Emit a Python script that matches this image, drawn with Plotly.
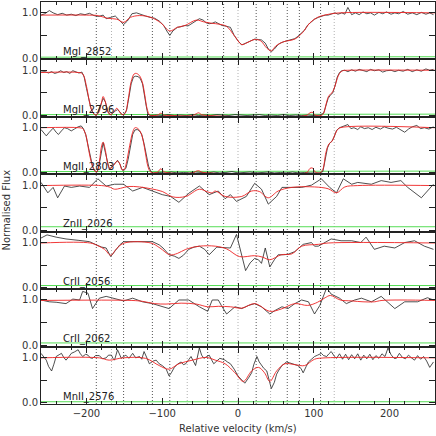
import plotly.graph_objects as go
from plotly.subplots import make_subplots

# ---- data (velocity in km/s, normalised flux) ----
v_mgi_2852 = [-260, -255, -249, -244, -238, -232, -226, -220, -214, -208,
              -202, -196, -190, -184, -178, -174, -168, -162, -156, -151,
              -146, -140, -134, -128, -122, -116, -110, -104, -98, -94,
              -90, -86, -80, -76, -70, -66, -60, -55, -51, -46,
              -42, -38, -34, -30, -26, -21, -17, -13, -10, -5,
              0, 5, 9, 13, 18, 22, 27, 31, 36, 40,
              44, 48, 53, 57, 62, 66, 70, 75, 79, 84,
              88, 92, 97, 101, 106, 110, 115, 119, 124, 128,
              132, 137, 141, 145, 150, 155, 160, 165, 170, 175,
              180, 186, 191, 196, 202, 207, 212, 218, 224, 230,
              236, 242, 248, 253, 258]
f_mgi_2852 = [0.95, 0.98, 1.05, 1.00, 0.96, 0.99, 0.95, 0.97, 0.94, 0.98,
              0.96, 0.99, 0.94, 0.92, 0.95, 0.87, 0.90, 0.93, 0.83, 0.74,
              0.82, 0.98, 1.00, 0.96, 0.93, 0.90, 0.88, 0.82, 0.72, 0.60,
              0.50, 0.60, 0.68, 0.69, 0.72, 0.71, 0.78, 0.83, 0.87, 0.84,
              0.78, 0.76, 0.77, 0.80, 0.76, 0.72, 0.71, 0.70, 0.68, 0.50,
              0.38, 0.29, 0.32, 0.36, 0.40, 0.42, 0.41, 0.40, 0.33, 0.20,
              0.14, 0.20, 0.30, 0.34, 0.37, 0.39, 0.41, 0.43, 0.48, 0.56,
              0.62, 0.73, 0.80, 0.86, 0.90, 0.92, 0.95, 0.95, 0.97, 1.00,
              0.97, 1.00, 0.97, 1.12, 0.96, 1.00, 0.96, 1.02, 0.98, 1.00,
              0.95, 1.01, 0.98, 1.02, 0.97, 1.00, 0.98, 1.03, 0.97, 1.00,
              0.96, 1.01, 0.97, 1.00, 0.96]
vm_mgi_2852 = [-260, -200, -185, -172, -160, -151, -142, -130, -115, -102,
               -90, -80, -70, -55, -45, -35, -25, -15, -5, 5,
               12, 22, 30, 38, 44, 50, 60, 75, 85, 95,
               105, 120, 135, 260]
m_mgi_2852 = [0.95, 0.95, 0.94, 0.88, 0.86, 0.79, 0.90, 0.94, 0.90, 0.78,
              0.60, 0.68, 0.72, 0.84, 0.80, 0.77, 0.75, 0.70, 0.50, 0.30,
              0.34, 0.41, 0.38, 0.22, 0.16, 0.27, 0.36, 0.42, 0.56, 0.78,
              0.90, 0.97, 1.00, 1.00]

v_mgii_2796 = [-260, -255, -250, -246, -242, -238, -234, -230, -226, -222,
               -218, -214, -210, -206, -203, -200, -197, -194, -191, -188,
               -185, -182, -178, -175, -172, -169, -166, -162, -159, -156,
               -153, -150, -147, -144, -141, -138, -135, -132, -129, -126,
               -123, -121, -119, -116, -108, -100, -92, -84, -76, -68,
               -60, -52, -44, -36, -28, -20, -12, -4, 4, 12,
               20, 28, 36, 44, 52, 60, 68, 76, 84, 92,
               100, 108, 113, 116, 119, 122, 125, 128, 131, 134,
               137, 141, 145, 150, 155, 160, 165, 170, 175, 180,
               186, 191, 196, 202, 207, 212, 218, 224, 230, 236,
               242, 248, 253, 258]
f_mgii_2796 = [0.96, 0.97, 0.94, 0.97, 0.93, 0.95, 0.99, 0.95, 0.97, 0.93,
               0.99, 0.97, 0.94, 0.96, 0.85, 0.60, 0.35, 0.15, 0.05, 0.01,
               0.05, 0.20, 0.38, 0.30, 0.10, 0.02, 0.04, 0.10, 0.13, 0.08,
               0.02, 0.03, 0.12, 0.40, 0.70, 0.85, 0.87, 0.86, 0.82, 0.70,
               0.45, 0.20, 0.03, 0.00, 0.01, 0.00, 0.02, 0.00, 0.01, 0.00,
               0.02, 0.00, 0.01, 0.00, 0.02, 0.01, 0.00, 0.02, 0.01, 0.00,
               0.01, 0.02, 0.00, 0.01, 0.00, 0.02, 0.00, 0.01, 0.00, 0.01,
               0.00, 0.01, 0.05, 0.20, 0.38, 0.45, 0.50, 0.65, 0.85, 0.95,
               0.99, 1.00, 0.97, 1.01, 0.98, 1.02, 0.99, 0.97, 1.02, 0.99,
               1.01, 0.96, 0.99, 1.00, 0.97, 1.00, 0.98, 1.02, 0.97, 1.01,
               0.98, 1.03, 1.00, 1.02]
vm_mgii_2796 = [-260, -210, -205, -200, -196, -192, -188, -184, -180, -178,
                -175, -171, -168, -164, -160, -157, -153, -149, -145, -141,
                -137, -134, -130, -126, -123, -120, -117, -114, -106, -102,
                -98, -90, -60, -55, -52, -48, -40, 90, 95, 98,
                102, 110, 113, 117, 120, 124, 128, 131, 134, 138,
                145, 260]
m_mgii_2796 = [0.95, 0.95, 0.92, 0.65, 0.30, 0.08, 0.01, 0.06, 0.30, 0.42,
               0.30, 0.05, 0.02, 0.08, 0.16, 0.10, 0.02, 0.05, 0.35, 0.75,
               0.92, 0.93, 0.88, 0.72, 0.45, 0.15, 0.02, 0.00, 0.01, 0.05,
               0.01, 0.00, 0.00, 0.04, 0.06, 0.02, 0.00, 0.00, 0.06, 0.07,
               0.01, 0.00, 0.05, 0.30, 0.44, 0.50, 0.65, 0.82, 0.93, 0.99,
               1.00, 1.00]

v_mgii_2803 = [-260, -257, -253, -249, -244, -240, -237, -233, -229, -225,
               -220, -216, -211, -207, -204, -201, -198, -195, -192, -189,
               -186, -183, -180, -178, -175, -172, -170, -167, -163, -159,
               -156, -153, -151, -148, -145, -142, -139, -136, -133, -130,
               -127, -124, -121, -118, -115, -112, -104, -96, -88, -80,
               -72, -64, -56, -48, -40, -32, -24, -16, -8, 0,
               8, 16, 24, 32, 40, 48, 56, 64, 72, 80,
               88, 96, 104, 108, 112, 115, 118, 121, 124, 127,
               130, 134, 140, 145, 149, 153, 158, 162, 167, 172,
               177, 182, 188, 193, 198, 204, 209, 215, 220, 225,
               230, 236, 241, 246, 252, 258]
f_mgii_2803 = [0.96, 0.90, 0.82, 0.90, 0.99, 0.90, 0.85, 0.93, 1.00, 0.98,
               0.93, 0.97, 1.02, 1.04, 0.98, 0.85, 0.60, 0.35, 0.15, 0.05,
               0.02, 0.20, 0.55, 0.67, 0.45, 0.20, 0.09, 0.12, 0.20, 0.28,
               0.20, 0.07, 0.05, 0.10, 0.30, 0.60, 0.85, 0.95, 0.96, 0.93,
               0.85, 0.65, 0.40, 0.15, 0.03, 0.00, 0.01, 0.00, 0.02, 0.00,
               0.01, 0.00, 0.02, 0.01, 0.00, 0.02, 0.00, 0.01, 0.03, 0.00,
               0.01, 0.02, 0.00, 0.01, 0.02, 0.00, 0.01, 0.00, 0.02, 0.00,
               0.01, 0.00, 0.01, 0.00, 0.03, 0.30, 0.55, 0.66, 0.70, 0.80,
               0.94, 1.00, 1.03, 1.07, 0.98, 1.00, 0.96, 1.02, 0.98, 1.00,
               0.96, 1.01, 0.97, 1.02, 0.99, 0.97, 1.01, 0.95, 0.90, 0.97,
               1.02, 1.05, 0.98, 1.00, 0.97, 1.02]
vm_mgii_2803 = [-260, -210, -205, -201, -197, -193, -189, -186, -183, -180,
                -178, -175, -172, -169, -166, -162, -159, -156, -153, -150,
                -147, -143, -139, -136, -132, -128, -125, -122, -119, -116,
                -113, -106, -102, -98, -92, -60, -55, -52, -48, -40,
                90, 95, 98, 102, 108, 112, 116, 120, 124, 128,
                131, 135, 260]
m_mgii_2803 = [1.00, 1.00, 0.98, 0.85, 0.50, 0.20, 0.04, 0.03, 0.25, 0.60,
               0.68, 0.50, 0.20, 0.10, 0.13, 0.22, 0.26, 0.20, 0.07, 0.08,
               0.25, 0.60, 0.90, 1.00, 0.98, 0.88, 0.70, 0.42, 0.15, 0.03,
               0.00, 0.02, 0.09, 0.03, 0.00, 0.00, 0.04, 0.05, 0.02, 0.00,
               0.00, 0.10, 0.11, 0.02, 0.00, 0.08, 0.45, 0.64, 0.70, 0.85,
               0.95, 1.00, 1.00]

v_znii_2026 = [-260, -251, -244, -238, -229, -220, -209, -196, -185, -174,
               -163, -151, -139, -126, -113, -100, -89, -78, -65, -51,
               -38, -26, -17, -10, -2, 11, 22, 31, 40, 51,
               58, 71, 84, 97, 110, 121, 130, 139, 150, 158,
               176, 189, 202, 215, 224, 242, 250, 258]
f_znii_2026 = [1.06, 0.83, 0.95, 0.72, 0.98, 0.95, 0.98, 0.95, 1.14, 0.98,
               1.02, 1.02, 0.87, 0.95, 0.87, 0.79, 0.75, 0.62, 0.82, 0.98,
               0.79, 0.87, 0.70, 0.79, 0.64, 0.75, 1.04, 0.91, 0.58, 0.75,
               0.95, 0.95, 0.95, 1.00, 1.14, 0.95, 0.83, 1.14, 1.02, 1.06,
               1.02, 1.10, 1.06, 1.10, 0.95, 0.72, 0.87, 1.02]
vm_znii_2026 = [-260, -180, -170, -163, -155, -145, -130, -115, -100, -86,
                -69, -51, -40, -34, -30, -17, 5, 18, 28, 40,
                53, 71, 101, 119, 130, 141, 158, 260]
m_znii_2026 = [0.99, 0.99, 0.96, 0.91, 0.93, 0.97, 0.96, 0.92, 0.86, 0.74,
               0.75, 0.91, 0.85, 0.83, 0.87, 0.75, 0.75, 0.87, 0.86, 0.72,
               0.87, 0.95, 0.96, 0.92, 0.83, 0.96, 0.99, 0.99]

v_crii_2056 = [-260, -252, -240, -227, -211, -196, -187, -180, -174, -168,
               -162, -156, -151, -139, -126, -113, -104, -99, -91, -84,
               -78, -72, -65, -58, -51, -44, -38, -33, -28, -22,
               -17, -10, -2, 2, 5, 10, 16, 22, 27, 31,
               36, 42, 48, 53, 60, 66, 75, 86, 97, 101,
               106, 114, 123, 136, 150, 162, 169, 180, 193, 207,
               220, 233, 246, 258]
f_crii_2056 = [1.10, 1.17, 1.12, 1.08, 1.05, 1.02, 0.95, 0.90, 0.88, 0.69,
               0.82, 0.95, 1.02, 1.02, 1.02, 1.02, 0.95, 0.88, 0.73, 0.70,
               0.65, 0.72, 0.85, 0.90, 0.92, 0.85, 0.73, 0.82, 0.90, 0.89,
               0.88, 0.88, 1.18, 0.90, 0.73, 0.38, 0.55, 0.65, 0.62, 0.54,
               0.88, 0.46, 0.62, 0.73, 0.73, 0.74, 0.80, 0.96, 1.00, 0.92,
               0.92, 1.00, 1.08, 1.04, 1.04, 1.00, 1.12, 0.85, 0.92, 0.88,
               1.00, 1.04, 0.92, 0.85]
vm_crii_2056 = [-260, -195, -185, -176, -168, -160, -150, -115, -103, -90,
                -80, -69, -51, -30, -15, 2, 22, 32, 42, 57,
                71, 84, 106, 119, 260]
m_crii_2056 = [0.99, 0.99, 0.93, 0.85, 0.72, 0.87, 0.99, 0.99, 0.88, 0.73,
               0.76, 0.85, 0.92, 0.92, 0.86, 0.69, 0.71, 0.68, 0.62, 0.73,
               0.75, 0.92, 0.96, 0.99, 0.99]

v_crii_2062 = [-260, -249, -240, -227, -218, -209, -205, -198, -192, -183,
               -174, -163, -151, -139, -126, -113, -104, -91, -78, -65,
               -51, -40, -34, -26, -22, -15, -4, 5, 14, 22,
               31, 42, 49, 58, 66, 75, 84, 93, 101, 108,
               117, 123, 134, 143, 154, 163, 176, 189, 207, 220,
               237, 250, 258]
f_crii_2062 = [1.00, 0.96, 0.95, 0.92, 1.02, 1.00, 1.19, 1.15, 0.81, 1.04,
               1.08, 1.04, 0.98, 1.04, 0.96, 0.92, 0.88, 0.81, 1.00, 1.00,
               0.85, 0.75, 1.00, 1.00, 0.88, 0.69, 0.85, 0.81, 0.88, 0.92,
               0.85, 0.69, 0.77, 0.85, 0.81, 0.92, 1.00, 0.96, 0.69, 0.88,
               1.27, 1.13, 1.04, 0.92, 1.00, 1.04, 0.96, 1.08, 0.81, 0.96,
               0.96, 1.05, 1.00]
vm_crii_2062 = [-260, -140, -126, -110, -95, -75, -55, -40, -26, -10,
                5, 22, 42, 57, 75, 92, 105, 115, 122, 135,
                150, 165, 180, 190, 260]
m_crii_2062 = [0.99, 0.99, 0.97, 0.92, 0.91, 0.93, 0.91, 0.85, 0.86, 0.85,
               0.82, 0.92, 0.75, 0.80, 0.92, 0.88, 0.95, 1.05, 1.10, 1.00,
               0.98, 0.96, 0.96, 0.99, 0.99]

v_mnii_2576 = [-260, -256, -253, -250, -246, -243, -240, -236, -233, -230,
               -227, -223, -220, -216, -211, -208, -205, -201, -198, -195,
               -192, -188, -183, -179, -174, -171, -167, -165, -163, -159,
               -156, -154, -151, -148, -144, -139, -135, -130, -127, -124,
               -120, -117, -112, -108, -104, -100, -95, -91, -88, -84,
               -80, -75, -72, -69, -65, -62, -59, -56, -51, -48,
               -45, -41, -38, -35, -32, -28, -24, -20, -17, -14,
               -10, -5, 0, 5, 9, 14, 18, 21, 25, 28,
               31, 34, 38, 41, 44, 48, 51, 54, 58, 61,
               64, 68, 71, 75, 79, 83, 86, 90, 93, 97,
               101, 105, 110, 113, 117, 120, 123, 127, 130, 134,
               138, 142, 146, 150, 154, 158, 162, 166, 170, 174,
               178, 182, 186, 190, 194, 198, 202, 206, 209, 213,
               217, 221, 225, 229, 233, 237, 241, 245, 249, 253,
               256, 258]
f_mnii_2576 = [1.09, 1.00, 0.94, 0.80, 0.70, 0.85, 1.02, 1.06, 1.09, 1.00,
               0.94, 1.02, 1.09, 1.12, 1.17, 1.08, 1.02, 1.07, 1.05, 0.99,
               0.98, 1.04, 1.04, 0.97, 0.99, 1.05, 1.05, 0.98, 0.94, 1.17,
               1.05, 0.98, 1.02, 1.05, 0.98, 1.09, 0.99, 1.02, 0.96, 1.13,
               0.98, 0.86, 0.92, 0.94, 0.86, 0.82, 0.75, 0.59, 0.66, 0.78,
               0.85, 0.90, 0.84, 0.86, 0.95, 1.02, 0.92, 0.82, 1.21, 1.05,
               0.98, 1.02, 1.05, 0.95, 0.86, 0.92, 0.98, 0.96, 0.94, 0.90,
               0.86, 0.74, 0.59, 0.50, 0.43, 0.55, 0.66, 0.85, 1.02, 0.90,
               0.82, 0.76, 0.70, 0.50, 0.31, 0.45, 0.63, 0.72, 0.82, 0.86,
               0.90, 0.88, 0.86, 0.84, 0.82, 0.76, 0.66, 0.80, 0.90, 0.96,
               1.02, 1.05, 1.09, 1.04, 1.02, 1.08, 1.13, 1.03, 0.98, 1.08,
               0.96, 1.07, 0.95, 1.06, 0.97, 1.08, 0.94, 1.05, 0.97, 1.07,
               0.95, 1.04, 0.98, 1.08, 1.02, 1.21, 1.06, 0.98, 0.98, 1.09,
               1.00, 0.97, 1.05, 0.99, 0.94, 1.04, 0.96, 1.02, 0.92, 0.78,
               0.85, 0.90]
vm_mnii_2576 = [-260, -183, -170, -152, -122, -104, -91, -78, -60, -42,
                -30, -17, -4, 7, 18, 27, 35, 42, 51, 62,
                75, 88, 101, 115, 260]
m_mnii_2576 = [0.99, 0.99, 0.94, 0.99, 0.98, 0.82, 0.74, 0.86, 0.94, 1.00,
               0.94, 0.86, 0.66, 0.47, 0.70, 0.78, 0.66, 0.47, 0.70, 0.86,
               0.84, 0.82, 0.96, 0.99, 0.99]

# error spectra (green), on a coarse velocity grid
v_err = [-260, -200, -140, -80, -20, 40, 100, 160, 220, 260]
e_mgi_2852 = [0.02, 0.02, 0.02, 0.02, 0.02, 0.02, 0.02, 0.03, 0.03, 0.03]
e_mgii_2796 = [0.02, 0.02, 0.02, 0.02, 0.02, 0.02, 0.03, 0.03, 0.03, 0.03]
e_mgii_2803 = [0.03, 0.03, 0.03, 0.03, 0.03, 0.03, 0.04, 0.04, 0.04, 0.04]
e_znii_2026 = [0.08, 0.08, 0.08, 0.08, 0.08, 0.08, 0.08, 0.08, 0.08, 0.08]
e_crii_2056 = [0.05, 0.05, 0.05, 0.05, 0.05, 0.05, 0.05, 0.05, 0.05, 0.05]
e_crii_2062 = [0.05, 0.05, 0.05, 0.05, 0.05, 0.05, 0.05, 0.05, 0.05, 0.05]
e_mnii_2576 = [0.02, 0.02, 0.02, 0.02, 0.02, 0.02, 0.02, 0.02, 0.02, 0.02]

# component markers
comp_black = [-187, -151, -113, -90, -40, -19, 24, 65, 81, 109]
comp_grey = [-167, -67, 0, 43, 127]
blend_znii = [-137, -117, -102, -62, -40, -16, 10, 31, 55, 75, 95, 115, 131, 159, 178]
blend_crii = [-125, -105, -90, -51, -27, -5, 22, 48, 67, 87, 108, 143, 171, 190]

panels = [
    ("MgI_2852", v_mgi_2852, f_mgi_2852, vm_mgi_2852, m_mgi_2852, e_mgi_2852, []),
    ("MgII_2796", v_mgii_2796, f_mgii_2796, vm_mgii_2796, m_mgii_2796, e_mgii_2796, []),
    ("MgII_2803", v_mgii_2803, f_mgii_2803, vm_mgii_2803, m_mgii_2803, e_mgii_2803, []),
    ("ZnII_2026", v_znii_2026, f_znii_2026, vm_znii_2026, m_znii_2026, e_znii_2026, blend_znii),
    ("CrII_2056", v_crii_2056, f_crii_2056, vm_crii_2056, m_crii_2056, e_crii_2056, []),
    ("CrII_2062", v_crii_2062, f_crii_2062, vm_crii_2062, m_crii_2062, e_crii_2062, blend_crii),
    ("MnII_2576", v_mnii_2576, f_mnii_2576, vm_mnii_2576, m_mnii_2576, e_mnii_2576, []),
]

FONT = "DejaVu Sans"
n = len(panels)
fig = make_subplots(rows=n, cols=1, shared_xaxes=True, vertical_spacing=0)

for i, (name, v, f, vm, m, e, blends) in enumerate(panels, start=1):
    assert len(v) == len(f), name
    assert len(vm) == len(m), name
    fig.add_hline(y=1.0, row=i, col=1, layer="below",
                  line=dict(color="#808080", width=1, dash="8px,5px"))
    for b in blends:
        fig.add_vline(x=b, row=i, col=1, layer="below",
                      line=dict(color="#66e066", width=1))
    fig.add_trace(go.Scatter(x=v_err, y=e, mode="lines",
                             line=dict(color="#55dd55", width=1)), row=i, col=1)
    fig.add_trace(go.Scatter(x=v, y=f, mode="lines",
                             line=dict(color="#222222", width=0.8)), row=i, col=1)
    fig.add_trace(go.Scatter(x=vm, y=m, mode="lines", line_shape="spline",
                             line=dict(color="#ee2222", width=0.9)), row=i, col=1)
    fig.add_annotation(x=-233, y=0.13, xref=f"x{i}" if i > 1 else "x",
                       yref=f"y{i}" if i > 1 else "y", text=name, showarrow=False,
                       xanchor="left", yanchor="middle",
                       font=dict(family=FONT, size=10, color="#222222"))

for c in comp_black:
    fig.add_shape(type="line", x0=c, x1=c, y0=0, y1=1, xref="x", yref="paper",
                  layer="below", line=dict(color="#555555", width=1, dash="1px,2px"))
for c in comp_grey:
    fig.add_shape(type="line", x0=c, x1=c, y0=0, y1=1, xref="x", yref="paper",
                  layer="below", line=dict(color="#b0b0b0", width=1, dash="1px,2px"))

fig.update_xaxes(range=[-260, 260], tick0=0, dtick=100, ticks="inside", ticklen=6,
                 tickcolor="#222", minor=dict(dtick=20, ticks="inside", ticklen=3,
                                               tickcolor="#222"),
                 showline=True, linecolor="#222", linewidth=1, mirror="ticks",
                 showgrid=False, zeroline=False, automargin=False,
                 tickfont=dict(family=FONT, size=10, color="#333"))
fig.update_yaxes(range=[-0.03, 1.24], tickvals=[0, 0.5, 1], ticktext=["0.0", "", "1.0"],
                 ticks="inside", ticklen=6, tickcolor="#222",
                 showline=True, linecolor="#222", linewidth=1, mirror="ticks",
                 showgrid=False, zeroline=False, automargin=False,
                 tickfont=dict(family=FONT, size=10, color="#333"))

fig.add_annotation(x=0.5, y=-0.06, xref="paper", yref="paper",
                   xanchor="center", yanchor="middle",
                   text="Relative velocity (km/s)", showarrow=False,
                   font=dict(family=FONT, size=10, color="#333"))
fig.add_annotation(x=-0.087, y=0.483, xref="paper", yref="paper",
                   xanchor="center", yanchor="middle",
                   text="Normalised Flux", showarrow=False, textangle=-90,
                   font=dict(family=FONT, size=10, color="#333"))

fig.update_layout(width=436, height=436, showlegend=False,
                  margin=dict(l=41, r=1, t=2, b=32),
                  paper_bgcolor="white", plot_bgcolor="white")

# the page body has a default 8px margin; drop it so the figure sits at (0, 0)
fig.write_html("out.html", config={"displayModeBar": False},
               post_script="document.body.style.margin='0';"
                           "document.body.style.overflow='hidden';")
